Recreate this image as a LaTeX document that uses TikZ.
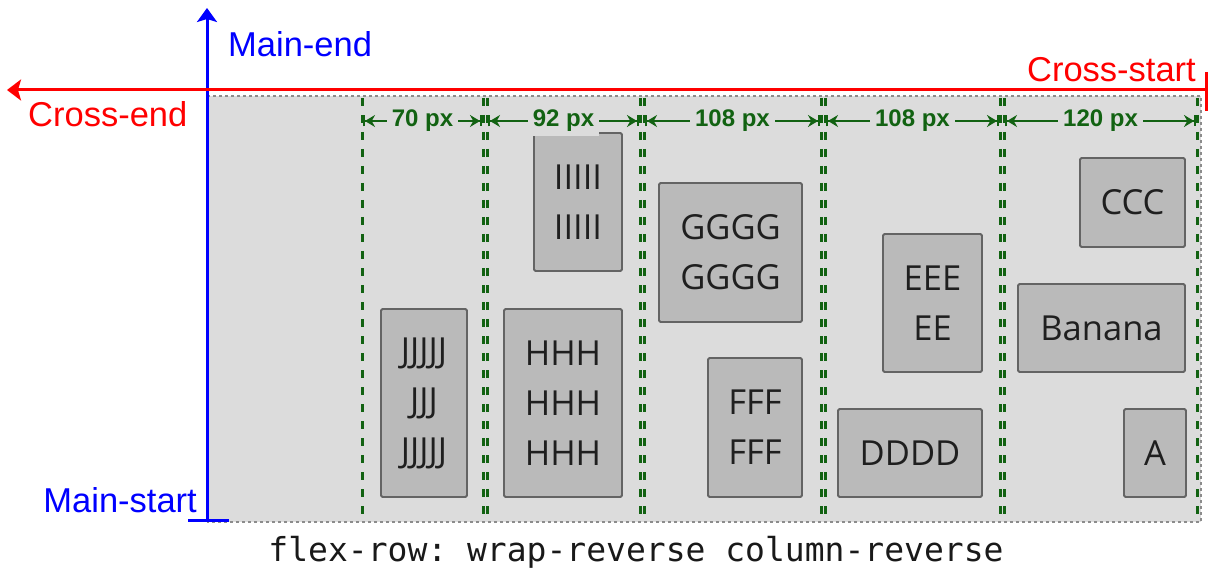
\documentclass[tikz,border=0pt]{standalone}
\usepackage{fontspec}
\setmainfont{Open Sans}
\newfontfamily\axisfont{Liberation Sans}
\setmonofont{DejaVu Sans Mono}
\usetikzlibrary{arrows.meta}
\definecolor{bgc}{RGB}{220,220,220}
\definecolor{boxc}{RGB}{186,186,186}
\definecolor{boxline}{RGB}{100,100,100}
\definecolor{dimgreen}{RGB}{18,98,18}
\definecolor{bordergray}{RGB}{140,140,140}
\tikzset{
  flexbox/.style={draw=boxline, fill=boxc, line width=1.8pt, rounded corners=1.5pt,
    inner sep=0pt, align=center, text=black!88,
    font=\fontsize{34.5}{50}\selectfont},
  divider/.style={draw=dimgreen, line width=3pt, dash pattern=on 8pt off 9pt},
  dimarrow/.style={draw=dimgreen, line width=2.8pt,
    {Bar[width=11pt,line width=2pt]Stealth[length=10pt,width=12pt]}-{Stealth[length=10pt,width=12pt]Bar[width=11pt,line width=2pt]}},
  dimlabel/.style={fill=bgc, text=dimgreen, inner xsep=5pt, inner ysep=4pt,
    font=\axisfont\bfseries\fontsize{24}{27}\selectfont},
  axislabel/.style={font=\axisfont\fontsize{34.5}{40}\selectfont, inner sep=0pt},
  mainaxis/.style={draw=blue, line width=3pt},
  crossaxis/.style={draw=red, line width=3pt},
}
\begin{document}
\begin{tikzpicture}[x=1pt,y=-1pt]
\useasboundingbox (0,0) rectangle (1209,569);
% container
\fill[bgc] (207,96) rectangle (1201,522);
\draw[bordergray, line width=1.5pt, dash pattern=on 3pt off 3pt] (207,96) -- (1201,96) -- (1201,522) -- (207,522);
% column dividers
\foreach \x in {362,483,487,640,644,821,825,1000,1004,1197}
  \draw[divider] (\x,98) -- (\x,522);
% items
\node[flexbox, minimum width=86pt,  minimum height=188pt] (J) at (424,403) {JJJJJ\\JJJ\\JJJJJ};
\node[flexbox, minimum width=118pt, minimum height=188pt] (H) at (563,403) {HHH\\HHH\\HHH};
\node[flexbox, minimum width=88pt,  minimum height=138pt] (I) at (578,202) {IIIII\\IIIII};
\node[flexbox, minimum width=143pt, minimum height=139pt] (G) at (730.5,252.5) {GGGG\\GGGG};
\node[flexbox, minimum width=94pt,  minimum height=139pt] (F) at (755,427.5) {FFF\\FFF};
\node[flexbox, minimum width=99pt,  minimum height=138pt] (E) at (932.5,303) {EEE\\EE};
\node[flexbox, minimum width=144pt, minimum height=88pt]  (D) at (910,453) {DDDD};
\node[flexbox, minimum width=105pt, minimum height=89pt]  (C) at (1132.5,202.5) {CCC};
\node[flexbox, minimum width=167pt, minimum height=88pt]  (B) at (1101.5,328) {Banana};
\node[flexbox, minimum width=62pt,  minimum height=88pt]  (A) at (1155,453) {A};
% dimension arrows
\coordinate (c1l) at (363,121); \coordinate (c1r) at (482,121);
\coordinate (c2l) at (488,121); \coordinate (c2r) at (639,121);
\coordinate (c3l) at (645,121); \coordinate (c3r) at (820,121);
\coordinate (c4l) at (826,121); \coordinate (c4r) at (999,121);
\coordinate (c5l) at (1005,121); \coordinate (c5r) at (1196,121);
\draw[dimarrow] (c1l) -- (c1r) node[midway, dimlabel] (w1) {70 px};
\draw[dimarrow] (c2l) -- (c2r) node[midway, dimlabel] (w2) {92 px};
\draw[dimarrow] (c3l) -- (c3r) node[midway, dimlabel] (w3) {108 px};
\draw[dimarrow] (c4l) -- (c4r) node[midway, dimlabel] (w4) {108 px};
\draw[dimarrow] (c5l) -- (c5r) node[midway, dimlabel] (w5) {120 px};
% main axis
\coordinate (mstart) at (207,521);
\coordinate (mend) at (207,8);
\coordinate (mtl) at (188,520);
\coordinate (mtr) at (229,520);
\draw[mainaxis, -{Stealth[length=14pt,width=20pt,inset=3pt]}] (mstart) -- (mend);
\draw[mainaxis] (mtl) -- (mtr);
% cross axis
\coordinate (cstart) at (1206,90);
\coordinate (cend) at (7,90);
\coordinate (ctt) at (1206,72);
\coordinate (ctb) at (1206,111);
\draw[crossaxis, -{Stealth[length=14pt,width=21pt,inset=3pt]}] (cstart) -- (cend);
\draw[crossaxis] (ctt) -- (ctb);
% axis labels
\node[axislabel, text=blue, anchor=base west] (lme) at (228,57) {Main-end};
\node[axislabel, text=blue, anchor=base east] (lms) at (197,512) {Main-start};
\node[axislabel, text=red, anchor=base west] (lce) at (28,127) {Cross-end};
\node[axislabel, text=red, anchor=base east] (lcs) at (1196,82) {Cross-start};
% caption
\node[font=\ttfamily\fontsize{33}{38}\selectfont, anchor=base, inner sep=0pt, text=black!90] (cap) at (636,561) {flex-row: wrap-reverse column-reverse};
\end{tikzpicture}
\end{document}
